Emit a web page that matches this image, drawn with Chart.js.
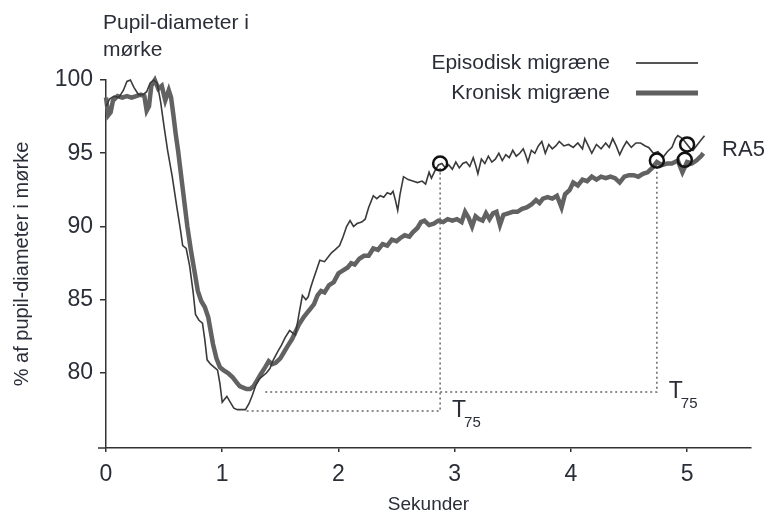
<!DOCTYPE html>
<html>
<head>
<meta charset="utf-8">
<script src="https://cdn.jsdelivr.net/npm/chart.js@4/dist/chart.umd.min.js"></script>
<style>
  html, body { margin: 0; padding: 0; background: #fff; }
  #wrap { width: 766px; height: 518px; }
</style>
</head>
<body>
<div id="wrap"><canvas id="chart" width="766" height="518"></canvas></div>
<script>
// DATA
const episodicT = [
    0, 0.03, 0.07, 0.11, 0.15, 0.18, 0.21, 0.24, 0.28, 0.32,
    0.35, 0.38, 0.41, 0.44, 0.47, 0.5, 0.53, 0.57, 0.61, 0.64,
    0.66, 0.69, 0.72, 0.75, 0.77, 0.8, 0.83, 0.85, 0.87, 0.9,
    0.93, 0.96, 0.98, 1.0, 1.02, 1.04, 1.07, 1.1, 1.13, 1.17,
    1.2, 1.23, 1.26, 1.29, 1.32, 1.35, 1.38, 1.41, 1.44, 1.48,
    1.51, 1.54, 1.58, 1.61, 1.63, 1.66, 1.69, 1.72, 1.74, 1.76,
    1.78, 1.81, 1.84, 1.88, 1.91, 1.94, 1.97, 2.01, 2.04, 2.07,
    2.1, 2.13, 2.16, 2.2, 2.23, 2.26, 2.3, 2.33, 2.36, 2.39,
    2.42, 2.45, 2.47, 2.49, 2.51, 2.53, 2.56, 2.6, 2.64, 2.68,
    2.72, 2.75, 2.78, 2.8, 2.83, 2.86, 2.89, 2.92, 2.95, 2.98,
    3.01, 3.04, 3.07, 3.1, 3.13, 3.16, 3.18, 3.2, 3.23, 3.26,
    3.29, 3.32, 3.35, 3.38, 3.41, 3.44, 3.47, 3.5, 3.53, 3.56,
    3.59, 3.61, 3.63, 3.66, 3.69, 3.72, 3.75, 3.78, 3.81, 3.84,
    3.87, 3.9, 3.94, 3.98, 4.02, 4.06, 4.1, 4.12, 4.15, 4.18,
    4.22, 4.26, 4.3, 4.33, 4.36, 4.39, 4.42, 4.45, 4.48, 4.52,
    4.56, 4.6, 4.64, 4.67, 4.71, 4.75, 4.79, 4.83, 4.87, 4.9,
    4.92, 4.96, 5.0, 5.03, 5.05, 5.09, 5.12, 5.15
]
const episodicPct = [
    98.2, 98.7, 98.9, 98.8, 99.3, 99.9, 100.0, 99.5, 99.0, 99.0,
    99.2, 99.8, 100.0, 99.8, 98.5, 96.8, 95.2, 93.4, 91.3, 89.8,
    88.7, 88.5, 87.3, 85.5, 84.0, 83.6, 83.4, 82.3, 80.9, 80.6,
    80.4, 80.2, 79.3, 78.0, 78.2, 78.4, 78.0, 77.6, 77.5, 77.5,
    77.5, 77.9, 78.5, 79.2, 79.6, 79.8, 80.0, 80.3, 80.9, 81.5,
    81.9, 82.4, 82.9, 82.7, 82.6, 84.0, 85.3, 85.0, 85.2, 85.8,
    86.3, 87.0, 87.7, 87.6, 87.9, 88.2, 88.4, 88.7, 89.3, 90.0,
    90.4, 90.0, 90.2, 90.3, 90.5, 91.3, 92.1, 91.9, 92.1, 92.0,
    92.3, 92.2, 92.4, 91.8, 91.1, 92.2, 93.4, 93.2, 93.1, 93.0,
    93.1, 92.9, 93.7, 93.3, 93.8, 94.2, 94.3, 94.0, 94.2, 93.9,
    94.4, 94.0, 94.3, 94.4, 94.1, 94.7, 94.2, 93.6, 94.6, 94.3,
    94.8, 94.4, 94.6, 95.0, 94.5, 94.9, 94.7, 95.2, 94.8, 95.0,
    95.3, 94.9, 94.4, 95.2, 95.0, 95.5, 95.8, 95.0, 95.6, 95.3,
    95.5, 95.8, 95.5, 95.6, 95.4, 95.7, 95.3, 96.0, 95.5, 95.0,
    95.6, 95.3, 95.7, 95.4, 96.0, 95.5, 94.9, 95.4, 95.8, 95.4,
    95.7, 95.7, 95.5, 95.4, 95.0, 95.1, 94.7, 95.1, 95.4, 96.0,
    96.2, 96.0, 95.6, 95.3, 95.2, 95.6, 95.9, 96.2
]

const chronicT = [
    0, 0.02, 0.04, 0.06, 0.1, 0.14, 0.18, 0.22, 0.26, 0.3,
    0.33, 0.35, 0.37, 0.39, 0.42, 0.45, 0.48, 0.51, 0.54, 0.56,
    0.58, 0.6, 0.62, 0.66, 0.7, 0.73, 0.76, 0.79, 0.82, 0.85,
    0.88, 0.9, 0.92, 0.95, 0.98, 1.01, 1.05, 1.09, 1.12, 1.15,
    1.18, 1.21, 1.24, 1.27, 1.3, 1.33, 1.37, 1.4, 1.43, 1.46,
    1.5, 1.53, 1.56, 1.6, 1.63, 1.66, 1.7, 1.73, 1.76, 1.79,
    1.82, 1.85, 1.88, 1.92, 1.96, 2.0, 2.04, 2.08, 2.11, 2.14,
    2.18, 2.22, 2.26, 2.3, 2.34, 2.38, 2.42, 2.46, 2.5, 2.53,
    2.57, 2.61, 2.64, 2.68, 2.71, 2.74, 2.78, 2.82, 2.86, 2.9,
    2.94, 2.98, 3.02, 3.06, 3.09, 3.12, 3.15, 3.18, 3.21, 3.24,
    3.27, 3.3, 3.33, 3.36, 3.39, 3.42, 3.46, 3.5, 3.54, 3.58,
    3.62, 3.66, 3.7, 3.73, 3.76, 3.8, 3.84, 3.88, 3.92, 3.95,
    3.99, 4.02, 4.06, 4.1, 4.14, 4.18, 4.22, 4.26, 4.3, 4.34,
    4.38, 4.42, 4.46, 4.5, 4.54, 4.58, 4.62, 4.66, 4.7, 4.74,
    4.78, 4.83, 4.87, 4.92, 4.96, 5.0, 5.04, 5.08, 5.12, 5.14
]
const chronicPct = [
    98.8, 97.6, 97.8, 98.6, 98.9, 98.8, 98.9, 98.8, 98.9, 99.0,
    98.9, 97.9, 98.2, 99.6, 100.0, 99.4, 99.6, 98.6, 99.3, 98.8,
    97.6, 96.3, 95.2, 92.6, 90.0, 88.4, 87.0, 85.6, 84.9, 84.5,
    83.8, 82.9, 82.0, 81.0, 80.4, 80.2, 80.0, 79.7, 79.4, 79.1,
    79.0, 78.9, 78.9, 79.1, 79.5, 79.9, 80.4, 80.8, 80.6, 80.7,
    81.0, 81.4, 81.8, 82.3, 82.8, 83.3, 83.8, 84.1, 84.4, 84.7,
    85.3, 85.6, 85.5, 86.0, 86.2, 86.8, 87.0, 87.2, 87.5, 87.4,
    87.8, 88.0, 88.0, 88.5, 88.4, 88.8, 88.7, 89.1, 89.0, 89.2,
    89.4, 89.3, 89.6, 89.9, 90.3, 90.4, 90.1, 90.2, 90.4, 90.3,
    90.5, 90.4, 90.5, 90.3, 91.0, 90.6, 90.0, 90.7, 90.5, 90.4,
    90.9, 90.5, 90.9, 91.0, 90.1, 90.8, 90.9, 91.0, 91.0, 91.2,
    91.3, 91.5, 91.8, 91.6, 91.9, 92.0, 91.9, 92.1, 91.3, 92.2,
    92.5, 93.0, 92.8, 93.2, 93.1, 93.4, 93.2, 93.4, 93.3, 93.4,
    93.3, 93.0, 93.4, 93.5, 93.5, 93.4, 93.6, 93.7, 94.0, 94.4,
    94.2, 94.3, 94.3, 94.5, 93.7, 94.4, 94.3, 94.5, 94.8, 95.0
]

// T75 guides: start of the minimum, time of T75, level of the circle
const episodicT75 = { minStart: 1.21, minPct: 77.4, t: 2.875, pct: 94.0 }
const chronicT75 = { minStart: 1.37, minPct: 78.7, t: 4.74, pct: 94.2 }

// circled points (T75 and RA5)
const markerT = [2.875, 4.74, 5.0, 4.98]
const markerPct = [94.3, 94.5, 95.6, 94.55]

const xTicks = [0, 1, 2, 3, 4, 5]
const yTicks = [80, 85, 90, 95, 100]

const seriesNames = ['Episodisk migræne', 'Kronisk migræne']


// UTILS
const zip = (xs, ys) => xs.map((x, i) => ({ x, y: ys[i] }))
const guide = g => [
    { x: g.minStart, y: g.minPct },
    { x: g.t, y: g.minPct },
    { x: g.t, y: g.pct },
]
const FONT = "'Liberation Sans', Arial, sans-serif"
const TEXT = '#2b2e38'


// EXTRA DRAWING (title, legend, labels)
const extras = {
    id: 'extras',
    afterDraw(chart) {
        const { ctx, scales: { x, y } } = chart
        ctx.save()

        // little stub of the x axis left of the y axis
        ctx.strokeStyle = '#333'
        ctx.lineWidth = 1.5
        ctx.beginPath()
        ctx.moveTo(x.left - 8, y.bottom)
        ctx.lineTo(x.left, y.bottom)
        ctx.stroke()

        ctx.fillStyle = TEXT
        ctx.textBaseline = 'middle'
        ctx.textAlign = 'left'
        ctx.font = `21px ${FONT}`
        ctx.fillText('Pupil-diameter i', 103, 23)
        ctx.fillText('mørke', 103, 50)

        // legend
        ctx.textAlign = 'right'
        ctx.fillText(seriesNames[0], 610, 63)
        ctx.fillText(seriesNames[1], 610, 93)
        ctx.lineCap = 'butt'
        ctx.strokeStyle = '#555'
        ctx.lineWidth = 2
        ctx.beginPath(); ctx.moveTo(636, 63); ctx.lineTo(698, 63); ctx.stroke()
        ctx.strokeStyle = '#5f5f5f'
        ctx.lineWidth = 5
        ctx.beginPath(); ctx.moveTo(636, 93); ctx.lineTo(698, 93); ctx.stroke()

        // RA5
        ctx.textAlign = 'left'
        ctx.font = `22px ${FONT}`
        ctx.fillText('RA5', x.getPixelForValue(5.0) + 35, y.getPixelForValue(95.6) + 5)

        // T75 labels
        const t75 = (g) => {
            const px = x.getPixelForValue(g.t) + 12
            const py = y.getPixelForValue(g.minPct)
            ctx.font = `23px ${FONT}`
            ctx.fillText('T', px, py)
            ctx.font = `15px ${FONT}`
            ctx.fillText('75', px + 12, py + 12)
        }
        t75(episodicT75)
        t75(chronicT75)

        ctx.restore()
    }
}


// MAIN
const ctx = document.getElementById('chart').getContext('2d')
window.chart = new Chart(ctx, {
    type: 'scatter',
    data: {
        datasets: [
            {
                label: 'markers',
                data: zip(markerT, markerPct),
                showLine: false,
                pointRadius: 7,
                pointBorderWidth: 2.5,
                pointBorderColor: '#111',
                pointBackgroundColor: 'rgba(0,0,0,0)',
                clip: false,
                order: 0,
            },
            {
                label: seriesNames[0],
                data: zip(episodicT, episodicPct),
                showLine: true,
                borderColor: '#3a3a3a',
                borderWidth: 1.6,
                pointRadius: 0,
                tension: 0,
                clip: false,
                order: 1,
            },
            {
                label: seriesNames[1],
                data: zip(chronicT, chronicPct),
                showLine: true,
                borderColor: '#626262',
                borderWidth: 4.5,
                pointRadius: 0,
                tension: 0,
                clip: false,
                order: 2,
            },
            {
                label: 'T75 episodisk',
                data: guide(episodicT75),
                showLine: true,
                borderColor: '#666',
                borderWidth: 1.5,
                borderDash: [2, 3],
                pointRadius: 0,
                order: 3,
            },
            {
                label: 'T75 kronisk',
                data: guide(chronicT75),
                showLine: true,
                borderColor: '#666',
                borderWidth: 1.5,
                borderDash: [2, 3],
                pointRadius: 0,
                order: 3,
            },
        ]
    },
    options: {
        responsive: false,
        animation: false,
        layout: { padding: { top: 80, right: 15, left: 0, bottom: 0 } },
        plugins: {
            legend: { display: false },
            tooltip: { enabled: false },
        },
        scales: {
            x: {
                type: 'linear',
                min: 0,
                max: 5.55,
                afterFit: s => { s.height = 70 },
                afterBuildTicks: s => { s.ticks = xTicks.map(v => ({ value: v })) },
                ticks: {
                    font: { family: FONT, size: 23 },
                    color: TEXT,
                    padding: 9,
                },
                grid: { drawOnChartArea: false, tickLength: 4, color: '#333', lineWidth: 1.5 },
                border: { display: true, color: '#333', width: 1.5 },
                title: {
                    display: true,
                    text: 'Sekunder',
                    font: { family: FONT, size: 19 },
                    color: TEXT,
                    padding: { top: 0, bottom: 2 },
                },
            },
            y: {
                min: 74.88,
                max: 100,
                afterFit: s => { s.width = 106 },
                afterBuildTicks: s => { s.ticks = yTicks.map(v => ({ value: v })) },
                ticks: {
                    font: { family: FONT, size: 23 },
                    color: TEXT,
                    padding: 7,
                },
                grid: { drawOnChartArea: false, tickLength: 6, color: '#333', lineWidth: 1.5 },
                border: { display: true, color: '#333', width: 1.5 },
                title: {
                    display: true,
                    text: '% af pupil-diameter i mørke',
                    font: { family: FONT, size: 20 },
                    color: TEXT,
                    padding: { top: 10, bottom: 0 },
                },
            },
        },
    },
    plugins: [extras],
})
</script>
</body>
</html>
